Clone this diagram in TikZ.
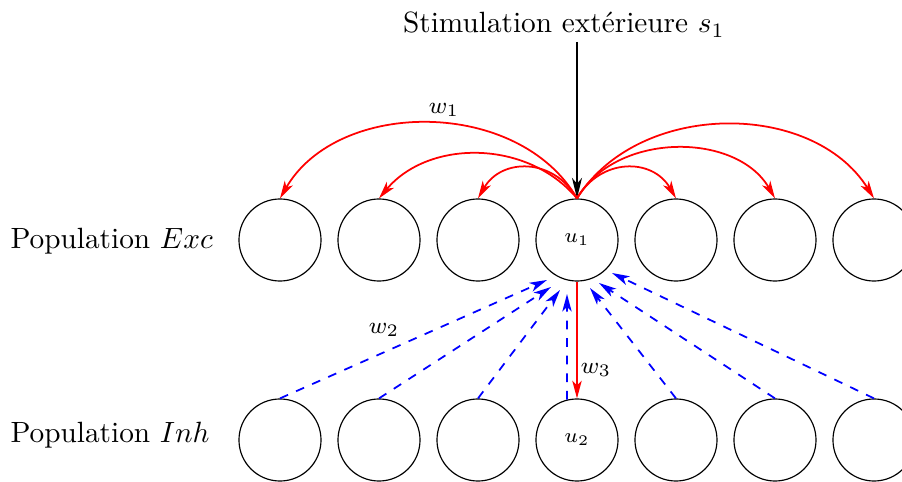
\documentclass[tikz,border=0pt]{standalone}
\usepackage{fontspec}
\usetikzlibrary{arrows.meta,calc}
\begin{document}
\begin{tikzpicture}[x=0.3413pt,y=0.3413pt,
  neuron/.style={circle,draw,minimum size=28pt,inner sep=0pt,font=\scriptsize},
  exc/.style={red,semithick,-{Stealth[length=6pt,width=3.2pt,inset=1.6pt]}},
  inh/.style={blue,semithick,dashed,-{Stealth[length=6pt,width=3.2pt,inset=1.6pt]}},
  stim/.style={black,semithick,-{Stealth[length=7pt,width=3.4pt,inset=2pt]}},
  wlab/.style={font=\footnotesize,inner sep=0pt},
  poplab/.style={anchor=base west,inner sep=0pt}]
\useasboundingbox (0,0) rectangle (902,482);
% neurons
\foreach \i/\x in {1/280,2/379,3/478,5/676,6/775,7/874}{
  \node[neuron] (e\i) at (\x,242) {};
  \node[neuron] (i\i) at (\x,42) {};
}
\node[neuron] (u1) at (577,242) {$u_1$};
\node[neuron] (u2) at (577,42) {$u_2$};
% population labels
\node[poplab] (pexc) at (10,233) {Population $Exc$};
\node[poplab] (pinh) at (10,39) {Population $Inh$};
% external stimulation
\node[anchor=base,inner sep=0pt] (stimtxt) at (564,449) {Stimulation extérieure $s_1$};
\coordinate (stimstart) at (577,440);
\draw[stim] (stimstart) -- (u1.north);
% excitatory lateral connections
\draw[exc] (u1.north) to[bend right=60,looseness=1] (e1.north);
\draw[exc] (u1.north) to[bend right=50,looseness=1] (e2.north);
\draw[exc] (u1.north) to[bend right=60,looseness=1.22] (e3.north);
\draw[exc] (u1.north) to[bend left=60,looseness=1.22] (e5.north);
\draw[exc] (u1.north) to[bend left=60,looseness=1] (e6.north);
\draw[exc] (u1.north) to[bend left=58,looseness=1] (e7.north);
\node[wlab] (w1) at (444,372) {$w_1$};
% inhibitory connections
\draw[inh] (i1.north) -- ($(u1)+(-30,-40)$);
\draw[inh] (i2.north) -- ($(u1)+(-26,-47)$);
\draw[inh] (i3.north) -- ($(u1)+(-17,-50)$);
\draw[inh] (u2.104) -- ($(u1)+(-10,-54)$);
\draw[inh] (i5.north) -- ($(u1)+(13,-48)$);
\draw[inh] (i6.north) -- ($(u1)+(22,-43)$);
\draw[inh] (i7.north) -- ($(u1)+(35,-33)$);
\node[wlab] (w2) at (384,152) {$w_2$};
% u1 -> u2
\draw[exc] (u1.south) -- (u2.north);
\node[wlab] (w3) at (596,112) {$w_3$};
\end{tikzpicture}
\end{document}
